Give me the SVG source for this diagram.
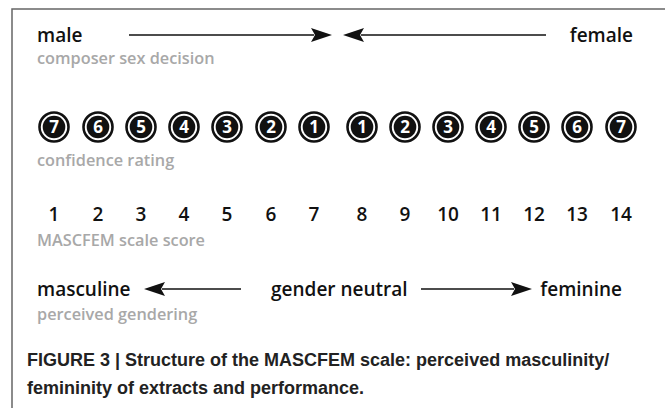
<svg xmlns="http://www.w3.org/2000/svg" width="665" height="408" viewBox="0 0 665 408">
<defs>
<style>
.lbl{font-family:"Open Sans","Liberation Sans",sans-serif;font-weight:600;font-size:19px;fill:#111}
.end{text-anchor:end}
.sub{font-family:"Open Sans","Liberation Sans",sans-serif;font-weight:600;font-size:16.3px;fill:#a8a8a8}
.num{font-family:"Open Sans","Liberation Sans",sans-serif;font-weight:600;font-size:19px;fill:#111;text-anchor:middle}
.cd{font-family:"Open Sans","Liberation Sans",sans-serif;font-weight:700;font-size:17px;fill:#fff;text-anchor:middle}
.cap{font-family:"Liberation Sans",Arial,sans-serif;font-weight:700;font-size:18px;fill:#222}
.ln{stroke:#111;stroke-width:1.7;fill:none}
.ah{fill:#111}
.ring{fill:#fff;stroke:#111;stroke-width:2.6}
.disc{fill:#111}
</style>
<g id="chip">
<circle class="ring" r="14.5"/>
<circle class="disc" r="11.3"/>
</g>
</defs>
<rect width="665" height="408" fill="#fff"/>
<path d="M12,408 L12,9 L665,9" stroke="#666" stroke-width="1.5" fill="none"/>

<g id="connectors">
<line class="ln" x1="129" y1="35" x2="314" y2="35"/>
<path class="ah" d="M311,28 L332,35 L311,42 L315,35 Z"/>
<line class="ln" x1="361" y1="35" x2="546" y2="35"/>
<path class="ah" d="M364,28 L343,35 L364,42 L360,35 Z"/>
<line class="ln" x1="162" y1="289" x2="241" y2="289"/>
<path class="ah" d="M165,282 L144,289 L165,296 L161,289 Z"/>
<line class="ln" x1="421" y1="289" x2="514" y2="289"/>
<path class="ah" d="M511,282 L532,289 L511,296 L515,289 Z"/>
</g>

<g id="node-male"><text class="lbl" x="37" y="42">male</text></g>
<g id="node-female"><text class="lbl end" x="633" y="42">female</text></g>
<g id="label-composer"><text class="sub" x="37" y="64">composer sex decision</text></g>

<g id="node-confidence">
<use href="#chip" x="54" y="127"/><text class="cd" x="54" y="133">7</text>
<use href="#chip" x="98" y="127"/><text class="cd" x="98" y="133">6</text>
<use href="#chip" x="141" y="127"/><text class="cd" x="141" y="133">5</text>
<use href="#chip" x="184" y="127"/><text class="cd" x="184" y="133">4</text>
<use href="#chip" x="227" y="127"/><text class="cd" x="227" y="133">3</text>
<use href="#chip" x="271" y="127"/><text class="cd" x="271" y="133">2</text>
<use href="#chip" x="314" y="127"/><text class="cd" x="314" y="133">1</text>
<use href="#chip" x="362" y="127"/><text class="cd" x="362" y="133">1</text>
<use href="#chip" x="405" y="127"/><text class="cd" x="405" y="133">2</text>
<use href="#chip" x="448" y="127"/><text class="cd" x="448" y="133">3</text>
<use href="#chip" x="491" y="127"/><text class="cd" x="491" y="133">4</text>
<use href="#chip" x="534" y="127"/><text class="cd" x="534" y="133">5</text>
<use href="#chip" x="577" y="127"/><text class="cd" x="577" y="133">6</text>
<use href="#chip" x="621" y="127"/><text class="cd" x="621" y="133">7</text>
</g>
<g id="label-confidence"><text class="sub" x="37" y="166">confidence rating</text></g>

<g id="node-scores">
<text class="num" x="54" y="221">1</text>
<text class="num" x="98" y="221">2</text>
<text class="num" x="141" y="221">3</text>
<text class="num" x="184" y="221">4</text>
<text class="num" x="227" y="221">5</text>
<text class="num" x="271" y="221">6</text>
<text class="num" x="314" y="221">7</text>
<text class="num" x="362" y="221">8</text>
<text class="num" x="405" y="221">9</text>
<text class="num" x="448" y="221">10</text>
<text class="num" x="491" y="221">11</text>
<text class="num" x="534" y="221">12</text>
<text class="num" x="577" y="221">13</text>
<text class="num" x="621" y="221">14</text>
</g>
<g id="label-score"><text class="sub" x="37" y="246">MASCFEM scale score</text></g>

<g id="node-masculine"><text class="lbl" x="37" y="296">masculine</text></g>
<g id="node-neutral"><text class="lbl" x="271" y="296">gender neutral</text></g>
<g id="node-feminine"><text class="lbl end" x="622" y="296">feminine</text></g>
<g id="label-gendering"><text class="sub" x="37" y="320">perceived gendering</text></g>

<g id="caption">
<text class="cap" x="27" y="366">FIGURE 3 | Structure of the MASCFEM scale: perceived masculinity/</text>
<text class="cap" x="27" y="394">femininity of extracts and performance.</text>
</g>
</svg>
